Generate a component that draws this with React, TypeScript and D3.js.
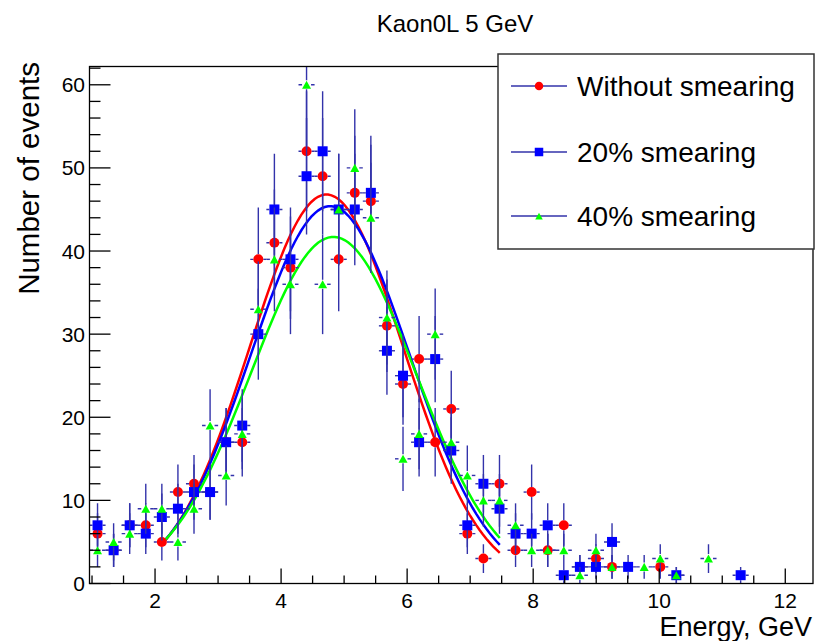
import React from "react";
import * as d3 from "d3";

// ---- data ----
const title = "Kaon0L 5 GeV";
const xTitle = "Energy, GeV";
const yTitle = "Number of events";
const binLow = 0.96;
const binHigh = 12.44;
const nBins = 45;
const seriesNames = ["Without smearing", "20% smearing", "40% smearing"];
const seriesColors = ["#ff0000", "#0000ff", "#00ff00"];
const seriesMarkers = ["circle", "square", "triangle"];
const countsNoSmear = [6, 4, 7, 7, 5, 11, 12, 11, 17, 17, 39, 41, 38, 52, 49, 39, 47, 46, 31, 24, 27, 17, 21, 6, 3, 12, 4, 11, 4, 7, 2, 3, 2, 0, 0, 2, 0, 0, 0, 0, 0];
const counts20 = [7, 4, 7, 6, 8, 9, 11, 11, 17, 19, 30, 45, 39, 49, 52, 45, 45, 47, 28, 25, 17, 27, 16, 7, 12, 9, 6, 6, 7, 1, 2, 2, 5, 2, 0, 0, 1, 0, 0, 0, 1];
const counts40 = [4, 5, 6, 9, 9, 5, 9, 19, 13, 18, 33, 39, 36, 60, 36, 45, 50, 44, 32, 15, 18, 30, 17, 13, 10, 10, 7, 4, 4, 4, 1, 4, 2, 0, 2, 3, 1, 0, 3, 0, 0];
// Gaussian fit parameters [amplitude, mean, sigma] and fit range
const fitAmp = [46.8, 45.4, 41.7];
const fitMean = [4.72, 4.78, 4.83];
const fitSigma = [1.22, 1.26, 1.31];
const fitRange = [2.13, 7.47];
const xTicksMajor = [2, 4, 6, 8, 10, 12];
const yTicksMajor = [0, 10, 20, 30, 40, 50, 60];

const W = 817;
const H = 641;
const FRAME = { left: 89.5, right: 813, top: 66.5, bottom: 583.5 };
const ERR = "#3333aa";
const FONT = "'Liberation Sans', Arial, Helvetica, sans-serif";

function Marker({ kind, x, y, color, s }: { kind: string; x: number; y: number; color: string; s: number }) {
  if (kind === "circle") return <circle cx={x} cy={y} r={s * 0.5} fill={color} />;
  if (kind === "square") return <rect x={x - s / 2} y={y - s / 2} width={s} height={s} fill={color} />;
  const h = s * 0.9;
  return (
    <path
      d={`M${x - s / 2},${y + h / 2}L${x + s / 2},${y + h / 2}L${x},${y - h / 2}Z`}
      fill={color}
    />
  );
}

export default function App() {
  const x = d3.scaleLinear().domain([binLow, binHigh]).range([FRAME.left, FRAME.right]);
  const y = d3.scaleLinear().domain([0, 62.2]).range([FRAME.bottom, FRAME.top]);
  const bw = (binHigh - binLow) / nBins;
  const all = [countsNoSmear, counts20, counts40];
  const markerSize = [10, 10, 9];

  const xMinor = d3.range(1, 12.01, 0.5).filter((v) => !xTicksMajor.includes(v));
  const yMinor = d3.range(0, 62.1, 2).filter((v) => v % 10 !== 0);

  const line = d3
    .line<number>()
    .x((d) => x(d[0]))
    .y((d) => y(d[1]))
    .curve(d3.curveLinear);

  const curves = fitAmp.map((A, k) => {
    const pts = d3.range(0, 101).map((j) => {
      const xv = fitRange[0] + ((fitRange[1] - fitRange[0]) * j) / 100;
      const yv = A * Math.exp(-((xv - fitMean[k]) ** 2) / (2 * fitSigma[k] ** 2));
      return [xv, yv];
    });
    return line(pts as any);
  });

  return (
    <svg
      width={W}
      height={H}
      style={{ position: "absolute", left: 0, top: 0, background: "#fff" }}
      fontFamily={FONT}
    >
      <defs>
        <clipPath id="plotclip">
          <rect x={FRAME.left} y={FRAME.top} width={FRAME.right - FRAME.left} height={FRAME.bottom - FRAME.top} />
        </clipPath>
      </defs>
      <rect x={0} y={0} width={W} height={H} fill="#fff" />
      {/* title */}
      <text x={455} y={32} textAnchor="middle" fontSize={24} fill="#000">
        {title}
      </text>

      <g clipPath="url(#plotclip)">
        {/* fit curves */}
        {curves.map((d, k) => (
          <path key={"c" + k} d={d || ""} fill="none" stroke={seriesColors[k]} strokeWidth={2.5} />
        ))}

        {/* data series */}
        {all.map((arr, k) => {
          const s = markerSize[k];
          const g = s / 2;
          return (
            <g key={"s" + k}>
              {arr.map((v, i) => {
                if (v <= 0) return null;
                const c = binLow + (i + 0.5) * bw;
                const cx = x(c);
                const cy = y(v);
                const e = Math.sqrt(v);
                const yTop = y(v + e);
                const yBot = y(Math.max(0, v - e));
                const xl = x(c - bw / 2);
                const xr = x(c + bw / 2);
                return (
                  <g key={i}>
                    <line x1={cx} x2={cx} y1={yTop} y2={cy - g} stroke={ERR} strokeWidth={1.4} />
                    <line x1={cx} x2={cx} y1={cy + g} y2={yBot} stroke={ERR} strokeWidth={1.4} />
                    <line x1={xl} x2={cx - g} y1={cy} y2={cy} stroke={ERR} strokeWidth={1.4} />
                    <line x1={cx + g} x2={xr} y1={cy} y2={cy} stroke={ERR} strokeWidth={1.4} />
                    <Marker kind={seriesMarkers[k]} x={cx} y={cy} color={seriesColors[k]} s={s} />
                  </g>
                );
              })}
            </g>
          );
        })}
      </g>

      {/* frame */}
      <rect
        x={FRAME.left}
        y={FRAME.top}
        width={FRAME.right - FRAME.left}
        height={FRAME.bottom - FRAME.top}
        fill="none"
        stroke="#000"
        strokeWidth={1.3}
      />

      {/* x axis ticks */}
      {xTicksMajor.map((t) => (
        <g key={"xt" + t}>
          <line x1={x(t)} x2={x(t)} y1={FRAME.bottom} y2={FRAME.bottom - 15} stroke="#000" strokeWidth={1.3} />
          <text x={x(t)} y={608} textAnchor="middle" fontSize={21}>
            {t}
          </text>
        </g>
      ))}
      {xMinor.map((t) => (
        <line key={"xm" + t} x1={x(t)} x2={x(t)} y1={FRAME.bottom} y2={FRAME.bottom - 8} stroke="#000" strokeWidth={1.3} />
      ))}

      {/* y axis ticks */}
      {yTicksMajor.map((t) => (
        <g key={"yt" + t}>
          <line x1={FRAME.left} x2={FRAME.left + 21} y1={y(t)} y2={y(t)} stroke="#000" strokeWidth={1.3} />
          <text x={85} y={y(t) + 7.5} textAnchor="end" fontSize={21}>
            {t}
          </text>
        </g>
      ))}
      {yMinor.map((t) => (
        <line key={"ym" + t} x1={FRAME.left} x2={FRAME.left + 11} y1={y(t)} y2={y(t)} stroke="#000" strokeWidth={1.3} />
      ))}

      {/* axis titles */}
      <text x={812} y={636} textAnchor="end" fontSize={27}>
        {xTitle}
      </text>
      <text
        transform={`translate(39,${62}) rotate(-90)`}
        textAnchor="end"
        fontSize={29.5}
      >
        {yTitle}
      </text>

      {/* legend */}
      <rect x={498} y={54} width={316} height={195} fill="#fff" stroke="#333" strokeWidth={1.5} />
      {seriesNames.map((n, k) => {
        const cy = [86, 152, 216][k];
        return (
          <g key={"l" + k}>
            <line x1={511} x2={567} y1={cy} y2={cy} stroke={ERR} strokeWidth={1.5} />
            <Marker kind={seriesMarkers[k]} x={539} y={cy} color={seriesColors[k]} s={k === 2 ? 7.5 : 8.5} />
            <text x={577} y={cy + 10} fontSize={28}>
              {n}
            </text>
          </g>
        );
      })}
    </svg>
  );
}
